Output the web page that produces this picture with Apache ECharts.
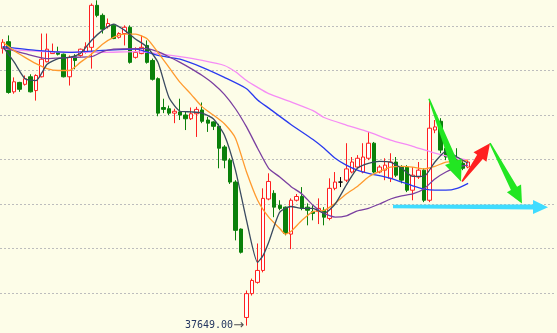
<!DOCTYPE html>
<html><head><meta charset="utf-8">
<script src="https://cdn.jsdelivr.net/npm/echarts@6/dist/echarts.min.js"></script>
<style>html,body{margin:0;padding:0;background:#fdfde8}#c{width:557px;height:333px}</style>
</head><body><div id="c"></div>
<script>
// categories (slots along the time axis; right part left empty for annotations)
const categories = Array.from({length: 100}, (_, i) => String(i + 1));

// price levels of the dotted horizontal guide lines
const gridLevels = [37701, 37772, 37843, 37914, 37985, 38056, 38127];

// candles: [open, close, low, high]
const ohlc = [
[38091,38101,38083,38106],[38102,38021,38019,38112],[38022,38038,38019,38045],[38037,38026,38022,38038],
[38034,38043,38032,38048],[38046,38022,38021,38050],[38024,38048,38008,38050],[38046,38074,38045,38115],
[38070,38090,38069,38115],[38083,38086,38083,38099],[38086,38082,38080,38094],[38082,38046,38045,38083],
[38046,38077,38032,38080],[38078,38072,38058,38082],[38080,38090,38078,38091],[38085,38094,38083,38101],
[38093,38160,38059,38163],[38160,38144,38141,38168],[38144,38122,38115,38147],[38126,38131,38123,38139],
[38128,38107,38106,38130],[38109,38115,38107,38117],[38115,38125,38096,38128],[38125,38069,38067,38128],
[38077,38085,38075,38093],[38083,38093,38082,38112],[38096,38069,38067,38104],[38072,38042,38040,38075],
[38043,37988,37983,38045],[37997,37994,37988,38011],[37995,37988,37985,38000],[37988,37991,37972,37995],
[37990,37985,37977,38011],[37985,37979,37961,37990],[37979,37987,37977,37997],[37987,37994,37950,37998],
[37993,37975,37972,38005],[37977,37972,37958,37982],[37974,37967,37961,37975],[37967,37932,37900,37971],
[37934,37913,37900,37937],[37913,37878,37875,37916],[37878,37801,37785,37881],[37803,37766,37764,37804],
[37662,37700,37649,37705],[37700,37721,37697,37724],[37718,37737,37716,37780],[37737,37852,37734,37868],
[37851,37879,37849,37892],[37860,37838,37822,37865],[37841,37836,37833,37849],[37838,37796,37793,37839],
[37795,37849,37771,37852],[37849,37855,37847,37859],[37855,37836,37833,37870],[37838,37833,37809,37844],
[37831,37828,37817,37841],[37831,37836,37811,37852],[37833,37822,37809,37838],[37820,37868,37817,37884],
[37868,37878,37865,37894],[37878,37878,37870,37886],[37881,37899,37878,37940],[37894,37910,37892,37918],
[37902,37916,37900,37921],[37894,37918,37892,37940],[37916,37940,37913,37958],[37940,37894,37892,37942],
[37894,37902,37892,37905],[37897,37905,37881,37916],[37884,37910,37878,37924],[37910,37889,37886,37918],
[37902,37881,37876,37905],[37902,37865,37862,37905],[37865,37889,37849,37902],[37886,37897,37883,37910],
[37897,37849,37846,37900],[37849,37964,37846,38010],[37961,37966,37956,37977],[37975,37929,37924,37980],
[37932,37918,37913,37937],[37921,37910,37907,37929],[37913,37905,37902,37932],[37908,37900,37897,37913],
[37902,37910,37900,37913]
];

// moving averages, read at sampled candle positions: [candleIndex, value]
const ma5 = [[0,38094],[2,38070],[4,38043],[6,38040],[8,38066],[10,38075],[12,38077],[14,38083],[16,38104],[18,38120],[20,38130],[22,38120],[24,38106],[26,38094],[28,38069],[30,38013],[32,37991],[34,37990],[36,37988],[38,37979],[40,37953],[42,37897],[44,37817],[46,37750],[47,37761],[48,37782],[50,37830],[52,37839],[54,37836],[56,37836],[58,37828],[60,37843],[62,37873],[64,37900],[66,37908],[68,37911],[70,37910],[72,37900],[74,37887],[76,37887],[78,37910],[80,37927],[82,37918],[84,37908]];
const ma10 = [[0,38101],[2,38088],[4,38077],[6,38067],[8,38059],[10,38056],[12,38056],[14,38069],[16,38082],[18,38098],[20,38109],[22,38114],[24,38114],[26,38107],[28,38085],[30,38061],[32,38037],[34,38018],[36,37998],[38,37985],[40,37971],[42,37948],[44,37894],[46,37849],[48,37822],[50,37804],[51,37795],[52,37799],[54,37817],[56,37831],[58,37833],[60,37844],[62,37859],[64,37871],[66,37886],[68,37895],[70,37902],[72,37903],[74,37902],[76,37899],[78,37903],[80,37910],[82,37911],[84,37913]];
const ma20 = [[0,38093],[4,38083],[8,38075],[12,38077],[16,38078],[18,38086],[20,38090],[24,38091],[26,38091],[28,38086],[30,38078],[32,38069],[34,38059],[36,38048],[38,38035],[40,38018],[42,37995],[44,37966],[46,37932],[48,37900],[50,37886],[52,37871],[54,37859],[56,37841],[58,37828],[60,37822],[62,37824],[64,37832],[66,37836],[68,37843],[70,37851],[72,37856],[74,37859],[76,37867],[78,37883],[80,37894],[82,37902],[84,37905]];
const ma30 = [[0,38094],[6,38088],[12,38085],[18,38088],[24,38090],[28,38080],[32,38074],[36,38061],[40,38045],[44,38027],[46,38009],[48,37996],[52,37970],[56,37946],[58,37932],[60,37916],[62,37905],[64,37897],[66,37892],[70,37884],[74,37872],[76,37867],[78,37865],[80,37865],[82,37868],[84,37876]];
const ma60 = [[0,38090],[8,38086],[18,38085],[24,38086],[28,38083],[32,38078],[36,38072],[40,38064],[42,38054],[44,38040],[46,38029],[48,38019],[52,38006],[56,37992],[58,37981],[62,37969],[66,37958],[70,37945],[74,37935],[78,37924],[82,37916],[84,37913]];

// hand-drawn annotation arrows: [startIndex, startValue, endIndex, endValue]
const arrows = [
[76.94, 38011, 82.71, 37879],
[82.90, 37879, 87.95, 37940],
[87.95, 37940, 93.72, 37844],
[70.44, 37839, 98.42, 37838]
];

const arrowColors = ['#22e622', '#ff2020', '#22e622', '#3fdcff'];
const arrowDims = [
  {w0: 1.5, w1: 8, hl: 21, hw: 9},
  {w0: 1.5, w1: 7, hl: 17, hw: 8},
  {w0: 1.5, w1: 7, hl: 17, hw: 8},
  {w0: 3.5, w1: 5, hl: 15, hw: 7}
];

const lowValue = Math.min(...ohlc.map(d => d[2]));
const lowIndex = ohlc.findIndex(d => d[2] === lowValue);

function lineSeries(data, color) {
  return {type: 'line', data: data, symbol: 'none', smooth: 0.2, z: 3,
    lineStyle: {color: color, width: 1.3}, silent: true};
}

const chart = echarts.init(document.getElementById('c'), null, {renderer: 'canvas'});
chart.setOption({
  animation: false,
  backgroundColor: '#fdfde8',
  grid: {left: 0, right: 3, top: 0, bottom: 0},
  xAxis: [
    {type: 'category', data: categories, boundaryGap: true, show: false},
    {type: 'value', min: -0.5, max: 99.5, show: false}
  ],
  yAxis: {
    type: 'value', min: 37637.2, max: 38168.5, scale: true,
    axisLabel: {show: false}, axisTick: {show: false}, axisLine: {show: false},
    splitLine: {show: false}
  },
  series: [
    {
      type: 'candlestick', data: ohlc, barWidth: 4, z: 2,
      itemStyle: {color: '#ffffff', color0: '#0a800a', borderColor: '#ff2020',
        borderColor0: '#0a800a', borderColorDoji: '#000000', borderWidth: 1},
      markLine: {
        silent: true, symbol: 'none', label: {show: false}, z: 1,
        lineStyle: {color: '#bdbdbd', type: [2, 2], width: 1},
        data: gridLevels.map(v => ({yAxis: v}))
      },
      markPoint: {
        symbol: 'circle', symbolSize: 1, itemStyle: {color: 'rgba(0,0,0,0)'},
        data: [{coord: [lowIndex, lowValue], value: lowValue}],
        label: {
          show: true, position: 'left', distance: 2,
          formatter: p => '{a|' + Number(p.value).toFixed(2) + '}{b|→}',
          rich: {
            a: {fontFamily: 'DejaVu Sans Mono', fontSize: 10, color: '#243660'},
            b: {fontFamily: 'DejaVu Sans', fontSize: 13, color: '#505050'}
          }
        }
      }
    },
    lineSeries(ma60, '#f58cf5'),
    lineSeries(ma30, '#2a3aef'),
    lineSeries(ma20, '#7a3fa0'),
    lineSeries(ma10, '#ff9a2e'),
    lineSeries(ma5, '#3a4a60'),
    {
      type: 'custom', xAxisIndex: 1, data: arrows, z: 10, silent: true,
      encode: {x: [0, 2], y: [1, 3]},
      renderItem: function (params, api) {
        const k = params.dataIndex;
        const d = arrowDims[k];
        const p0 = api.coord([api.value(0), api.value(1)]);
        const p1 = api.coord([api.value(2), api.value(3)]);
        const dx = p1[0] - p0[0], dy = p1[1] - p0[1];
        const len = Math.sqrt(dx * dx + dy * dy);
        const ux = dx / len, uy = dy / len;
        const nx = -uy, ny = ux;
        const bx = p1[0] - ux * d.hl, by = p1[1] - uy * d.hl;
        const pts = [
          [p0[0] + nx * d.w0 / 2, p0[1] + ny * d.w0 / 2],
          [bx + nx * d.w1 / 2, by + ny * d.w1 / 2],
          [bx + nx * d.hw, by + ny * d.hw],
          [p1[0], p1[1]],
          [bx - nx * d.hw, by - ny * d.hw],
          [bx - nx * d.w1 / 2, by - ny * d.w1 / 2],
          [p0[0] - nx * d.w0 / 2, p0[1] - ny * d.w0 / 2]
        ];
        return {type: 'polygon', shape: {points: pts}, style: {fill: arrowColors[k]}};
      }
    }
  ]
});
</script>
</body></html>
